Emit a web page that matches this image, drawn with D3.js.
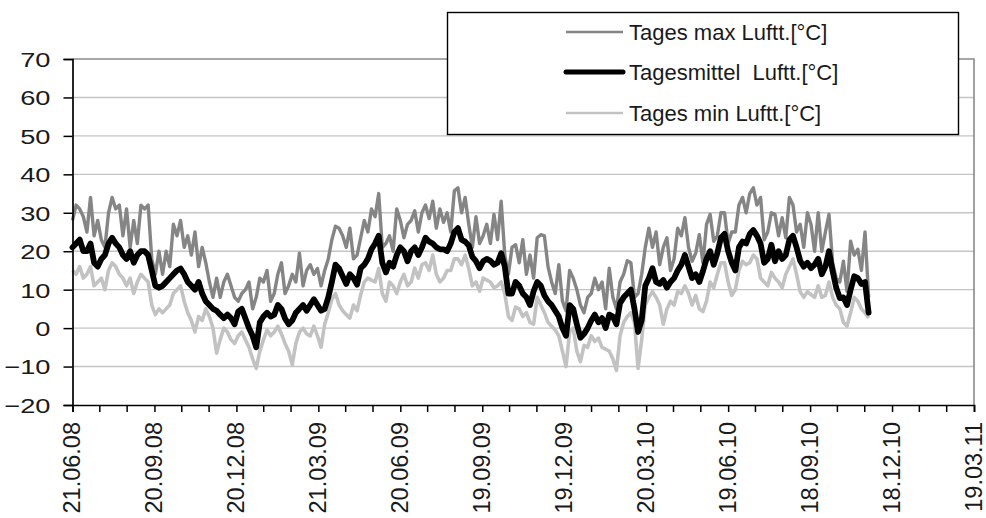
<!DOCTYPE html>
<html>
<head>
<meta charset="utf-8">
<script src="https://cdn.jsdelivr.net/npm/d3@7"></script>
<style>
  html, body { margin: 0; padding: 0; background: #fff; }
  svg { display: block; font-family: "Liberation Sans", Arial, sans-serif; }
</style>
</head>
<body>
<svg id="chart" width="986" height="518"></svg>
<script>
// Daily air temperature readings, sampled every 4 days from 21.06.2008
const startDate = "21.06.2008";
const stepDays = 4;

const tagesMax = [
  28, 32, 31, 29, 25, 34, 24, 28, 23, 21,
  30, 34, 31, 32, 24, 31, 21, 28, 22, 32,
  31, 32, 18, 14, 20, 14, 20, 16, 27, 24,
  28, 21, 24, 19, 25, 16, 21,
  17, 12, 8, 13, 8, 12, 14, 11, 8, 7, 9, 10, 12, 5, 8, 13, 12, 15, 7, 9, 14, 17, 9, 11,
  14, 12, 19.5, 11, 15, 16.5, 14, 15.5, 11, 15, 18, 23, 26.5,
  26, 24, 21, 26, 18, 19, 23.5, 28, 25, 31, 29, 35, 21, 22, 24, 20, 31, 28, 23.5, 27,
  28, 30.5, 25, 30, 32, 28.5, 33, 26, 31, 27.5, 30, 25, 35.7, 36.5, 30, 34, 27,
  21, 29, 22, 24, 27, 22, 29.6, 23, 33, 19, 14, 21, 21.7, 17, 23, 14, 19, 13, 23.5, 24.3,
  24, 16, 12, 9, 16.5, 7, 4.5, 15, 13, 10, 6, 4, 8, 9, 13, 10, 12,
  5, 15.6, 8, 5, 12, 14, 17.5, 17, 8, 9, 14, 21, 26, 21, 25, 16.5, 21, 23.5, 15, 18,
  26, 24, 28.7, 21, 17.4, 19.5, 24.3, 17, 27, 29.6, 22.6, 24, 30, 30, 22, 25,
  25, 32, 34, 30, 35, 36.5, 32, 34, 23, 25, 30, 29.6, 24, 28.7, 23.5, 34, 32, 25, 27, 21,
  30, 27, 20, 30, 20, 25, 29.6, 17, 13, 12, 17.4, 9.6, 22.6, 19, 20.5, 15, 25, 8
];

const tagesMittel = [
  21, 22, 23, 20, 20, 22, 17, 16, 18, 19,
  22, 23.5, 22, 21, 19, 18, 20, 17, 19, 20,
  20, 19, 15, 11, 10.5, 11, 12, 13, 14, 15,
  15.5, 14, 12, 11, 10, 12, 9,
  7, 6, 5, 4.5, 3.5, 2.6, 3.5, 2.6, 1, 4.3, 5, 2.5, 0, -2, -5, 1.5, 3, 4, 3, 3.5,
  6, 5, 2.5, 1, 2, 4, 5, 6, 4.5, 6, 7.5, 6, 4.5, 5, 8, 12, 16.5,
  15.5, 13.5, 11.5, 14, 13, 11.3, 15.6, 16.5, 18, 20.5, 22, 24, 17, 14.5, 17, 16, 19, 21, 20, 17.4,
  20, 21, 19, 21, 23.5, 22.5, 22, 21, 20.5, 20.5, 20, 22, 25, 26, 23, 22.5, 21.5,
  18.5, 17.4, 15.6, 17.4, 18, 17.5, 16.5, 17, 19.5, 16, 9, 9, 12, 11, 9, 8, 6, 9.6, 12, 11,
  8.5, 7, 6, 4.5, 3, 0, -2, 6, 5, 1, -2.5, -1.5, 0, 2, 3.5, 1.5, 2.6,
  0, 3.5, 3, 1, 6.5, 8, 9, 10, 5, -1, 2, 11, 13, 15.6, 12, 11.5, 12.5, 10.5, 12, 13,
  15, 16.5, 19, 16, 13, 14, 12, 14.8, 18, 20, 16.5, 19.5, 23.5, 24.5, 20, 17,
  15, 21, 22.5, 22, 24.5, 25.5, 24, 22, 17, 18, 21.7, 17.4, 20, 18, 19, 23, 24, 21, 17.5, 16,
  17, 15.6, 16.5, 18, 14, 16, 20, 14.8, 10.5, 7.8, 8, 6, 10, 13.5, 13, 11.5, 12, 4
];

const tagesMin = [
  15, 14, 16, 13, 14, 16, 11, 12, 13, 10,
  15, 17, 16, 14, 13, 11, 13, 9, 12, 14,
  13, 12, 6, 3.5, 5, 4, 5, 6, 9, 10,
  11, 7, 4, 2, -1, 3, 2,
  5, 3, 0, -6.5, -3, 0, -1, -3, -4, -2, -1, -3, -5, -8, -10.5, -6, -3, -0.5, -2, -1,
  0.5, -1.5, -4, -6, -9.5, -4, -1, 0, -1.5, -2, 0.5, -2, -5, 1, 4, 7.5, 9,
  6, 4.5, 3.5, 2.6, 6, 4.5, 8.7, 12, 13, 12.5, 12, 15.5, 9, 7, 12, 11, 9, 12, 14, 11,
  12, 15.6, 13, 16.5, 17, 15, 19, 14, 12, 13, 15, 15, 18, 18, 16.5, 19, 15.5,
  11, 12, 9.6, 13, 12.5, 12, 10.5, 11, 12, 9, 3, 2, 5.5, 5, 3, 4, 1.5, 1, 8, 6,
  4, 1.5, 0.5, -0.5, -2, -6, -10, -1, 0, -6, -8.7, -4.5, -5, -2, -3.5, -2.6, -5,
  -5.5, -6, -8, -11, -2, 1.5, 3, 4, 1.5, -10.5, -3, 6, 8, 9.5, 8, 6, 1, 5, 7, 6,
  9.5, 9, 11, 9, 6, 8.5, 5, 4.3, 7, 12, 10.5, 14, 17, 17, 12, 8.5,
  10, 15, 17.4, 16.5, 17, 19, 18, 13, 12, 11, 14.5, 13, 12, 10.5, 14, 16, 18, 14, 9.5, 8,
  9.5, 8.7, 8, 11, 8, 8.5, 12, 8, 6, 5, 1.5, 0.5, 4, 8, 7, 5, 4, 2.6
];

// Axis tick labels
const xTickLabels = ["21.06.08", "20.09.08", "20.12.08", "21.03.09", "20.06.09", "19.09.09",
                     "19.12.09", "20.03.10", "19.06.10", "18.09.10", "18.12.10", "19.03.11"];
const yTicks = [-20, -10, 0, 10, 20, 30, 40, 50, 60, 70];

const seriesNames = ["Tages max Luftt.[°C]", "Tagesmittel  Luftt.[°C]", "Tages min Luftt.[°C]"];

// ---- layout ----
const plot = { left: 72.5, right: 974, top: 59, bottom: 405 };
const parseFull = d3.timeParse("%d.%m.%Y");
const parseShort = d3.timeParse("%d.%m.%y");
const t0 = parseFull(startDate);
const dates = tagesMittel.map((_, i) => d3.timeDay.offset(t0, i * stepDays));
const tickDates = xTickLabels.map(parseShort);

const x = d3.scaleTime()
  .domain([tickDates[0], tickDates[tickDates.length - 1]])
  .range([plot.left, plot.right]);
const y = d3.scaleLinear().domain([-20, 70]).range([plot.bottom, plot.top]);

const svg = d3.select("#chart");

// horizontal gridlines
svg.append("g")
  .selectAll("line")
  .data(yTicks.filter(v => v > -20 && v < 70))
  .join("line")
  .attr("x1", plot.left).attr("x2", plot.right)
  .attr("y1", d => y(d)).attr("y2", d => y(d))
  .attr("stroke", "#c4c4c4").attr("stroke-width", 1.4);

// plot frame (top & right)
svg.append("path")
  .attr("d", `M${plot.left},${y(70)}H${plot.right}V${plot.bottom}`)
  .attr("fill", "none").attr("stroke", "#8a8a8a").attr("stroke-width", 1.6);

// series lines
const line = vals => d3.line()
  .x((d, i) => x(dates[i]))
  .y(d => y(d))
  .curve(d3.curveLinear)(vals);

const styles = [
  { color: "#858585", width: 3.4, cap: "butt" },
  { color: "#000", width: 5.8, cap: "round" },
  { color: "#c2c2c2", width: 3.6, cap: "butt" }
];

svg.append("path").attr("d", line(tagesMax))
  .attr("fill", "none").attr("stroke", styles[0].color).attr("stroke-width", styles[0].width)
  .attr("stroke-linejoin", "round");
svg.append("path").attr("d", line(tagesMin))
  .attr("fill", "none").attr("stroke", styles[2].color).attr("stroke-width", styles[2].width)
  .attr("stroke-linejoin", "round");
svg.append("path").attr("d", line(tagesMittel))
  .attr("fill", "none").attr("stroke", styles[1].color).attr("stroke-width", styles[1].width)
  .attr("stroke-linejoin", "round").attr("stroke-linecap", "round");

// y axis
const yAxis = svg.append("g")
  .attr("transform", `translate(${plot.left},0)`)
  .call(d3.axisLeft(y).tickValues(yTicks).tickSize(9).tickFormat(d3.format("d")));
yAxis.select(".domain").attr("stroke", "#000").attr("stroke-width", 1.7);
yAxis.selectAll(".tick line").attr("stroke", "#000").attr("stroke-width", 1.5);
yAxis.selectAll(".tick text")
  .attr("font-size", 20.5).attr("fill", "#1a1a1a")
  .attr("font-family", "'Liberation Sans', Arial, sans-serif")
  .attr("text-anchor", "end")
  .attr("x", 0).attr("dy", "0.36em")
  .attr("transform", "translate(-22,0) scale(1.33,1)");

// x axis: major ticks every quarter, two minor ticks in between
const minorDates = [];
for (let k = 0; k < tickDates.length - 1; k++) {
  const a = tickDates[k], b = tickDates[k + 1];
  const span = b - a;
  minorDates.push(new Date(+a + span / 3), new Date(+a + 2 * span / 3));
}
const xAxis = svg.append("g")
  .attr("transform", `translate(0,${plot.bottom})`)
  .call(d3.axisBottom(x).tickValues(tickDates).tickSize(7).tickFormat((d, i) => xTickLabels[i]));
xAxis.select(".domain").attr("stroke", "#000").attr("stroke-width", 1.7);
xAxis.selectAll(".tick line").attr("stroke", "#000").attr("stroke-width", 1.5);
xAxis.selectAll(".tick text")
  .attr("font-size", 23.5).attr("fill", "#1a1a1a")
  .attr("font-family", "'Liberation Sans', Arial, sans-serif")
  .attr("text-anchor", "end")
  .attr("transform", "rotate(-90)")
  .attr("x", -17).attr("y", 0).attr("dy", "0.3em");
svg.append("g")
  .selectAll("line")
  .data(minorDates)
  .join("line")
  .attr("x1", d => x(d)).attr("x2", d => x(d))
  .attr("y1", plot.bottom).attr("y2", plot.bottom + 7)
  .attr("stroke", "#000").attr("stroke-width", 1.5);

// legend
const legend = svg.append("g");
legend.append("rect")
  .attr("x", 447.5).attr("y", 12.5).attr("width", 511).attr("height", 122)
  .attr("fill", "#fff").attr("stroke", "#000").attr("stroke-width", 1.4);
const legendY = [32, 72, 113];
seriesNames.forEach((name, i) => {
  legend.append("line")
    .attr("x1", 566).attr("x2", 623)
    .attr("y1", legendY[i]).attr("y2", legendY[i])
    .attr("stroke", styles[i].color)
    .attr("stroke-width", i === 1 ? 5 : 2.6)
    .attr("stroke-linecap", styles[i].cap);
  legend.append("text")
    .attr("x", 629).attr("y", legendY[i]).attr("dy", "0.36em")
    .attr("font-size", 22).attr("fill", "#1a1a1a")
    .style("white-space", "pre")
    .text(name);
});
</script>
</body>
</html>
